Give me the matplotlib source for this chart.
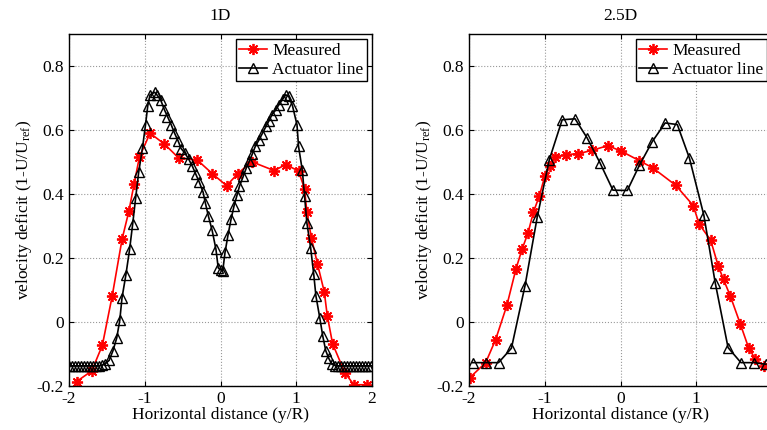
import numpy as np
import matplotlib
matplotlib.use("Agg")
import matplotlib.pyplot as plt

plt.rcParams.update({
    "font.family": "serif",
    "font.serif": ["Liberation Serif", "DejaVu Serif"],
    "mathtext.fontset": "custom",
    "mathtext.rm": "Liberation Serif",
    "mathtext.it": "Liberation Serif:italic",
    "font.size": 12.5,
    "xtick.direction": "in",
    "ytick.direction": "in",
    "xtick.top": True,
    "ytick.right": True,
})

# ---- 1D ----
meas_1d_x = [-1.90, -1.70, -1.56, -1.43, -1.30, -1.21, -1.14, -1.07, -0.93, -0.74, -0.55,
             -0.31, -0.11, 0.08, 0.23, 0.41, 0.71, 0.86, 1.03, 1.11, 1.14, 1.20, 1.28,
             1.37, 1.41, 1.48, 1.64, 1.76, 1.94]
meas_1d_y = [-0.186, -0.153, -0.073, 0.081, 0.258, 0.346, 0.432, 0.516, 0.590, 0.556, 0.512,
             0.507, 0.464, 0.426, 0.464, 0.501, 0.473, 0.492, 0.472, 0.416, 0.343, 0.263, 0.182,
             0.094, 0.019, -0.068, -0.158, -0.196, -0.196]

act_1d_x = [-2.00, -1.96, -1.92, -1.88, -1.84, -1.80, -1.76, -1.72, -1.68, -1.64, -1.60, -1.56,
            -1.52, -1.47, -1.42, -1.37, -1.33, -1.30, -1.25, -1.20, -1.16, -1.12, -1.08, -1.03,
            -0.99, -0.96, -0.93, -0.87, -0.84, -0.79, -0.74, -0.70, -0.65, -0.61, -0.56, -0.52,
            -0.47, -0.42, -0.37, -0.33, -0.28, -0.23, -0.20, -0.16, -0.11, -0.06, -0.03, 0.01,
            0.03, 0.06, 0.10, 0.14, 0.18, 0.22, 0.25, 0.30, 0.34, 0.38, 0.42, 0.46, 0.51, 0.55,
            0.60, 0.64, 0.68, 0.73, 0.77, 0.82, 0.86, 0.90, 0.95, 1.01, 1.03, 1.08, 1.11, 1.14,
            1.19, 1.23, 1.26, 1.31, 1.35, 1.39, 1.43, 1.47, 1.51, 1.55, 1.59, 1.63, 1.67, 1.71,
            1.75, 1.79, 1.83, 1.87, 1.91, 1.95, 1.99]
act_1d_y = [-0.137, -0.137, -0.137, -0.137, -0.137, -0.137, -0.137, -0.137, -0.137, -0.137,
            -0.137, -0.135, -0.130, -0.120, -0.090, -0.050, 0.005, 0.076, 0.146, 0.227, 0.305,
            0.388, 0.468, 0.544, 0.616, 0.676, 0.710, 0.718, 0.710, 0.694, 0.663, 0.642, 0.616,
            0.592, 0.566, 0.542, 0.528, 0.509, 0.486, 0.464, 0.437, 0.406, 0.372, 0.331, 0.286,
            0.227, 0.169, 0.162, 0.160, 0.218, 0.273, 0.322, 0.364, 0.398, 0.424, 0.455, 0.481,
            0.502, 0.525, 0.549, 0.570, 0.588, 0.611, 0.629, 0.648, 0.663, 0.679, 0.696, 0.710,
            0.705, 0.676, 0.616, 0.549, 0.474, 0.393, 0.310, 0.232, 0.151, 0.081, 0.014, -0.044,
            -0.090, -0.114, -0.132, -0.136, -0.137, -0.137, -0.137, -0.137, -0.137, -0.137,
            -0.137, -0.137, -0.137, -0.137, -0.137, -0.137]

# ---- 2.5D ----
meas_25d_x = [-1.99, -1.78, -1.65, -1.50, -1.38, -1.30, -1.22, -1.15, -1.07, -1.00, -0.93,
              -0.86, -0.72, -0.56, -0.38, -0.17, 0.00, 0.25, 0.43, 0.73, 0.96, 1.04, 1.19,
              1.29, 1.36, 1.45, 1.58, 1.69, 1.78, 1.89, 1.99]
meas_25d_y = [-0.174, -0.127, -0.056, 0.052, 0.166, 0.227, 0.279, 0.343, 0.395, 0.455, 0.486,
              0.516, 0.523, 0.526, 0.536, 0.551, 0.535, 0.504, 0.481, 0.427, 0.364, 0.305, 0.256,
              0.175, 0.133, 0.081, -0.005, -0.080, -0.116, -0.137, -0.145]

act_25d_x = [-1.95, -1.78, -1.61, -1.44, -1.26, -1.10, -0.94, -0.77, -0.60, -0.44, -0.27,
             -0.10, 0.09, 0.25, 0.42, 0.59, 0.75, 0.91, 1.10, 1.25, 1.42, 1.59, 1.76, 1.92]
act_25d_y = [-0.127, -0.127, -0.127, -0.082, 0.114, 0.327, 0.507, 0.632, 0.635, 0.575, 0.497,
             0.412, 0.411, 0.490, 0.564, 0.622, 0.617, 0.512, 0.334, 0.123, -0.080, -0.127,
             -0.127, -0.132]

panels = [
    ("1D", meas_1d_x, meas_1d_y, act_1d_x, act_1d_y),
    ("2.5D", meas_25d_x, meas_25d_y, act_25d_x, act_25d_y),
]

fig = plt.figure(figsize=(7.67, 4.30), dpi=100)
lefts = [69 / 767, 469 / 767]
width = 303 / 767
bottom = 1 - 386 / 430
height = (386 - 34) / 430

asterisk = (8, 2, 0)

for i, (left, (title, mx, my, ax_x, ax_y)) in enumerate(zip(lefts, panels)):
    ax = fig.add_axes([left, bottom, width, height])
    ax.plot(mx, my, "-", marker=asterisk, color="red", linewidth=1.2,
            markersize=8, markeredgewidth=1.3, label="Measured")
    ax.plot(ax_x, ax_y, "-^", color="black", markerfacecolor="none",
            markeredgecolor="black", linewidth=1.2, markersize=7.5,
            markeredgewidth=1.0, label="Actuator line")
    ax.set_xlim(-2, 2)
    ax.set_ylim(-0.2, 0.9)
    ax.set_xticks([-2, -1, 0, 1, 2])
    # the right panel runs off the figure edge, so its "2" is not shown
    if i == 0:
        ax.set_xticklabels(["-2", "-1", "0", "1", "2"])
    else:
        ax.set_xticklabels(["-2", "-1", "0", "1", ""])
    ax.set_yticks([-0.2, 0, 0.2, 0.4, 0.6, 0.8])
    ax.set_yticklabels(["-0.2", "0", "0.2", "0.4", "0.6", "0.8"])
    ax.grid(True, linestyle=":", color="#999999", linewidth=0.8)
    ax.set_title(title, fontsize=12.5, pad=10)
    ax.set_xlabel("Horizontal distance (y/R)", labelpad=0)
    ax.set_ylabel("velocity deficit (1-U/U$_{\\mathrm{ref}}$)", labelpad=2)
    leg = ax.legend(loc="upper right", fancybox=False, edgecolor="black",
                    framealpha=1, borderpad=0.2, labelspacing=0.15,
                    handlelength=1.6, handletextpad=0.3, borderaxespad=0.3)
    leg.get_frame().set_linewidth(1.0)
    for s in ax.spines.values():
        s.set_linewidth(1.0)

fig.savefig("out.png", dpi=100)
